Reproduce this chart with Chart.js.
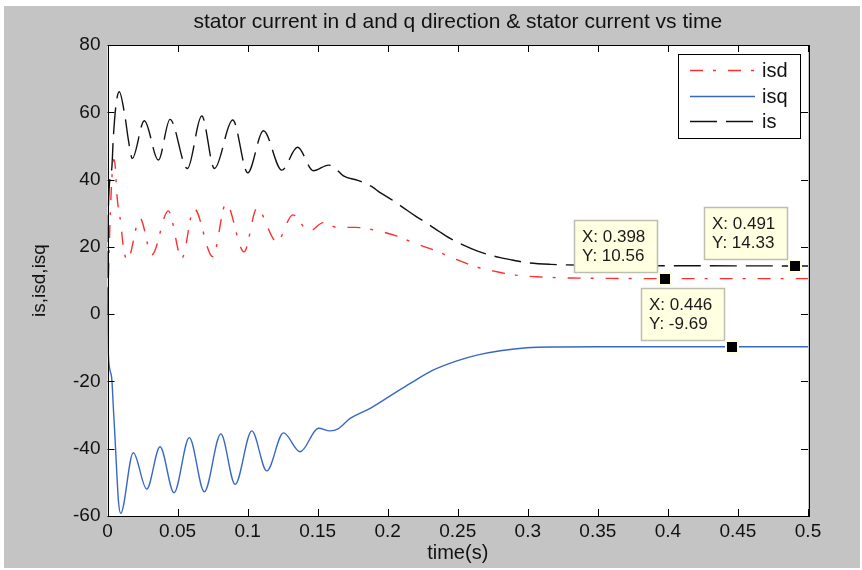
<!DOCTYPE html>
<html>
<head>
<meta charset="utf-8">
<script src="https://cdn.jsdelivr.net/npm/chart.js@4.4.0/dist/chart.umd.min.js"></script>
<style>
  html, body { margin: 0; padding: 0; background: #ffffff; }
  canvas { display: block; }
</style>
</head>
<body>
<canvas id="c" width="862" height="570"></canvas>
<script>
// ---- data ----
const tIsd = [0, 0.002, 0.0045, 0.0055, 0.0066, 0.0095, 0.0113, 0.0141, 0.0232, 0.0316, 0.0434, 0.0530, 0.0618, 0.0751, 0.0846, 0.0975, 0.1066, 0.1209, 0.1323, 0.1440, 0.1541, 0.1637, 0.1768, 0.1923, 0.2066, 0.2196, 0.2327, 0.2470, 0.2613, 0.2780, 0.2911, 0.3066, 0.33, 0.36, 0.398, 0.45, 0.5];
const isd  = [0, 30, 46, 44, 36, 27, 20, 15.9, 28.5, 17.6, 30.7, 16.6, 31.4, 17.1, 32.9, 18.5, 31.4, 21.5, 29.5, 24.6, 27.2, 25.8, 25.8, 24.8, 23.2, 21.0, 19.1, 16.6, 14.3, 12.6, 11.6, 11.1, 10.75, 10.62, 10.56, 10.56, 10.56];

const tIsq = [0, 0.0006, 0.003, 0.0042, 0.0054, 0.0066, 0.0079, 0.0094, 0.0184, 0.0280, 0.0375, 0.0475, 0.0584, 0.0691, 0.0809, 0.0911, 0.1030, 0.1137, 0.1256, 0.1375, 0.1506, 0.1589, 0.1646, 0.1732, 0.1875, 0.2018, 0.2161, 0.2327, 0.2494, 0.2637, 0.2804, 0.2994, 0.3209, 0.35, 0.4, 0.446, 0.5];
const isq  = [0, -12, -19, -28, -37, -47, -56, -59.2, -41.2, -52.0, -39.4, -53.1, -36.7, -52.8, -35.6, -50.6, -34.7, -46.6, -35.3, -40.9, -33.9, -34.7, -34.1, -31.0, -28.0, -24.3, -20.6, -16.6, -13.9, -12.2, -10.9, -10.0, -9.75, -9.69, -9.69, -9.69, -9.69];

const tIs = [0, 0.0005, 0.003, 0.0041, 0.006, 0.0084, 0.0125, 0.0149, 0.0177, 0.0263, 0.0363, 0.0446, 0.0570, 0.0673, 0.0763, 0.0894, 0.1001, 0.1113, 0.1244, 0.1356, 0.1470, 0.1577, 0.1613, 0.1684, 0.1791, 0.1887, 0.1946, 0.2041, 0.2113, 0.2196, 0.2280, 0.2370, 0.2446, 0.2541, 0.2637, 0.2709, 0.2804, 0.2887, 0.2994, 0.3161, 0.35, 0.42, 0.491, 0.5];
const is   = [0, 30, 43, 52, 62, 66.1, 58.7, 51.8, 46.3, 57.5, 45.8, 57.9, 43.3, 58.9, 43.3, 57.7, 42.0, 54.5, 42.8, 49.6, 42.6, 44.3, 43.8, 41.1, 39.7, 37.9, 36.1, 33.7, 31.6, 29.2, 27.0, 24.5, 22.5, 20.5, 18.8, 17.8, 16.8, 16.1, 15.3, 14.8, 14.5, 14.38, 14.33, 14.33];

const seriesNames = ['isd', 'isq', 'is'];
const xTicks = [0, 0.05, 0.1, 0.15, 0.2, 0.25, 0.3, 0.35, 0.4, 0.45, 0.5];
const yTicks = [-60, -40, -20, 0, 20, 40, 60, 80];

// data tips
const tipX = [0.398, 0.446, 0.491];
const tipY = [10.56, -9.69, 14.33];
const tipXLabel = ['0.398', '0.446', '0.491'];
const tipYLabel = ['10.56', '-9.69', '14.33'];

const titleText = 'stator current in d and q direction & stator current vs time';
const xTitle = 'time(s)';
const yTitle = 'is,isd,isq';

// ---- styles ----
const FONT = "'Liberation Sans', Arial, sans-serif";
const RED = '#ff2e2e', BLUE = '#3868c6', BLACK = '#111111';
const dashes = [[13, 10, 3, 12], [], [27, 9]];
const colors = [RED, BLUE, BLACK];

const pts = (t, v) => t.map((x, i) => ({ x: x, y: v[i] }));

const bgPlugin = {
  id: 'bg',
  beforeDraw(chart) {
    const { ctx, chartArea: a } = chart;
    ctx.save();
    ctx.fillStyle = '#ffffff';
    ctx.fillRect(0, 0, chart.width, chart.height);
    ctx.fillStyle = '#c4c4c4';
    ctx.fillRect(4, 6, chart.width - 6, chart.height - 8);
    ctx.fillStyle = '#ffffff';
    ctx.fillRect(a.left, a.top, a.right - a.left, a.bottom - a.top);
    // title centred over the plot area
    ctx.fillStyle = '#111';
    ctx.font = '21px ' + FONT;
    ctx.textAlign = 'center';
    ctx.textBaseline = 'middle';
    ctx.fillText(titleText, (a.left + a.right) / 2, 22);
    ctx.restore();
  }
};

const framePlugin = {
  id: 'frame',
  afterDatasetsDraw(chart) {
    const { ctx, chartArea: a, scales: { x, y } } = chart;
    ctx.save();
    // frame
    ctx.strokeStyle = '#000';
    ctx.lineWidth = 1;
    ctx.strokeRect(Math.round(a.left) + 0.5, Math.round(a.top) + 0.5, Math.round(a.right - a.left), Math.round(a.bottom - a.top));
    // inward ticks
    const TL = 7;
    ctx.beginPath();
    xTicks.forEach(v => {
      const px = Math.round(x.getPixelForValue(v)) + 0.5;
      ctx.moveTo(px, a.bottom); ctx.lineTo(px, a.bottom - TL);
      ctx.moveTo(px, a.top); ctx.lineTo(px, a.top + TL);
    });
    yTicks.forEach(v => {
      const py = Math.round(y.getPixelForValue(v)) + 0.5;
      ctx.moveTo(a.left, py); ctx.lineTo(a.left + TL, py);
      ctx.moveTo(a.right, py); ctx.lineTo(a.right - TL, py);
    });
    ctx.stroke();

    // legend
    const lx = 678, ly = 54, lw = 122, lh = 84;
    ctx.fillStyle = '#fff';
    ctx.fillRect(lx, ly, lw, lh);
    ctx.strokeStyle = '#000';
    ctx.strokeRect(lx + 0.5, ly + 0.5, lw, lh);
    const rows = [70, 96, 121];
    chart.data.datasets.forEach((ds, i) => {
      ctx.beginPath();
      ctx.setLineDash(ds.borderDash || []);
      ctx.strokeStyle = ds.borderColor;
      ctx.lineWidth = 1.4;
      ctx.moveTo(690, rows[i] + 0.5); ctx.lineTo(755, rows[i] + 0.5);
      ctx.stroke();
      ctx.setLineDash([]);
      ctx.fillStyle = '#111';
      ctx.font = '20px ' + FONT;
      ctx.textBaseline = 'middle';
      ctx.textAlign = 'left';
      ctx.fillText(ds.label, 762, rows[i] + 1);
    });

    // data tips
    tipX.forEach((tx, i) => {
      const mx = x.getPixelForValue(tx), my = y.getPixelForValue(tipY[i]);
      const bw = 83, bh = 52;
      const bx = Math.round(mx - 8 - bw), by = Math.round(my - 7 - bh);
      ctx.fillStyle = '#ffffe1';
      ctx.fillRect(bx, by, bw, bh);
      ctx.strokeStyle = '#bdbdb0';
      ctx.lineWidth = 1.5;
      ctx.strokeRect(bx + 0.5, by + 0.5, bw, bh);
      ctx.fillStyle = '#1a1a1a';
      ctx.font = '17px ' + FONT;
      ctx.textBaseline = 'alphabetic';
      ctx.textAlign = 'left';
      ctx.fillText('X: ' + tipXLabel[i], bx + 8, by + 22);
      ctx.fillText('Y: ' + tipYLabel[i], bx + 8, by + 41);
      // marker
      ctx.fillStyle = '#ffffe1';
      ctx.fillRect(Math.round(mx) - 7, Math.round(my) - 7, 14, 14);
      ctx.fillStyle = '#000';
      ctx.fillRect(Math.round(mx) - 5, Math.round(my) - 5, 10, 10);
    });
    ctx.restore();
  }
};

const fmt = v => String(Math.round(v * 100) / 100);

new Chart(document.getElementById('c'), {
  type: 'line',
  data: {
    datasets: [
      { label: seriesNames[0], data: pts(tIsd, isd) },
      { label: seriesNames[1], data: pts(tIsq, isq) },
      { label: seriesNames[2], data: pts(tIs, is) }
    ].map((d, i) => Object.assign(d, {
      borderColor: colors[i], borderDash: dashes[i], borderWidth: 1.4,
      pointRadius: 0, fill: false, cubicInterpolationMode: 'monotone'
    }))
  },
  options: {
    responsive: false,
    animation: false,
    layout: { padding: { left: 0, right: 54, top: 45, bottom: 0 } },
    plugins: {
      legend: { display: false },
      tooltip: { enabled: false },
      title: { display: false }
    },
    scales: {
      x: {
        type: 'linear', min: 0, max: 0.5,
        afterBuildTicks: s => { s.ticks = xTicks.map(v => ({ value: v })); },
        ticks: { padding: 4, color: '#111', font: { family: FONT, size: 19 }, callback: fmt, maxRotation: 0, autoSkip: false },
        grid: { display: false, drawTicks: false },
        border: { display: false },
        title: { display: true, text: xTitle, color: '#111', font: { family: FONT, size: 20 }, padding: { top: 0, bottom: 5 } },
        afterFit: s => { s.height = 54; }
      },
      y: {
        min: -60, max: 80,
        afterBuildTicks: s => { s.ticks = yTicks.map(v => ({ value: v })); },
        ticks: { padding: 7, color: '#111', font: { family: FONT, size: 19 } },
        grid: { display: false, drawTicks: false },
        border: { display: false },
        title: { display: true, text: yTitle, color: '#111', font: { family: FONT, size: 19 }, padding: { top: 28, bottom: 0 } },
        afterFit: s => { s.width = 107.5; }
      }
    }
  },
  plugins: [bgPlugin, framePlugin]
});
</script>
</body>
</html>
